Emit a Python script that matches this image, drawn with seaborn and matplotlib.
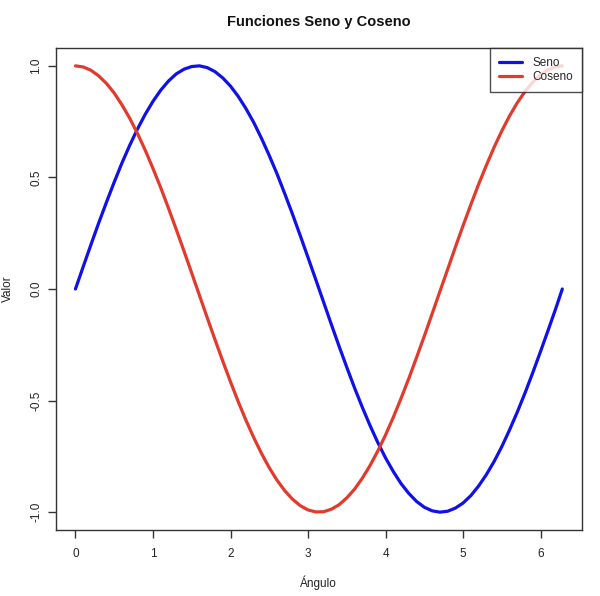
import matplotlib
matplotlib.use("Agg")
import matplotlib.pyplot as plt
from matplotlib.lines import Line2D
import seaborn as sns
import pandas as pd

angulo = [0.0, 0.1, 0.2, 0.3, 0.4, 0.5, 0.6, 0.7, 0.8, 0.9,
          1.0, 1.1, 1.2, 1.3, 1.4, 1.5, 1.6, 1.7, 1.8, 1.9,
          2.0, 2.1, 2.2, 2.3, 2.4, 2.5, 2.6, 2.7, 2.8, 2.9,
          3.0, 3.1, 3.2, 3.3, 3.4, 3.5, 3.6, 3.7, 3.8, 3.9,
          4.0, 4.1, 4.2, 4.3, 4.4, 4.5, 4.6, 4.7, 4.8, 4.9,
          5.0, 5.1, 5.2, 5.3, 5.4, 5.5, 5.6, 5.7, 5.8, 5.9,
          6.0, 6.1, 6.2, 6.28]
seno = [0.000, 0.100, 0.199, 0.296, 0.389, 0.479, 0.565, 0.644, 0.717, 0.783,
        0.841, 0.891, 0.932, 0.964, 0.985, 0.997, 1.000, 0.992, 0.974, 0.946,
        0.909, 0.863, 0.808, 0.746, 0.675, 0.598, 0.516, 0.427, 0.335, 0.239,
        0.141, 0.042, -0.058, -0.158, -0.256, -0.351, -0.443, -0.530, -0.612, -0.688,
        -0.757, -0.818, -0.872, -0.916, -0.952, -0.978, -0.994, -1.000, -0.996, -0.982,
        -0.959, -0.926, -0.883, -0.832, -0.773, -0.706, -0.631, -0.551, -0.465, -0.374,
        -0.279, -0.182, -0.083, 0.000]
coseno = [1.000, 0.995, 0.980, 0.955, 0.921, 0.878, 0.825, 0.765, 0.697, 0.622,
          0.540, 0.454, 0.362, 0.267, 0.170, 0.071, -0.029, -0.129, -0.227, -0.323,
          -0.416, -0.505, -0.589, -0.666, -0.737, -0.801, -0.857, -0.904, -0.942, -0.971,
          -0.990, -0.999, -0.998, -0.987, -0.967, -0.936, -0.897, -0.848, -0.791, -0.726,
          -0.654, -0.575, -0.490, -0.401, -0.307, -0.211, -0.112, -0.012, 0.087, 0.187,
          0.284, 0.378, 0.469, 0.554, 0.635, 0.709, 0.776, 0.835, 0.886, 0.927,
          0.960, 0.983, 0.997, 1.000]
series = ["Seno", "Coseno"]
colores = ["#1010E8", "#E23A2C"]
x_ticks = [0, 1, 2, 3, 4, 5, 6]
y_ticks = [-1.0, -0.5, 0.0, 0.5, 1.0]

df = pd.DataFrame({
    "Ángulo": angulo * 2,
    "Valor": seno + coseno,
    "Serie": [series[0]] * len(angulo) + [series[1]] * len(angulo),
})

sns.set_theme(style="ticks")
plt.rcParams["font.family"] = ["Liberation Sans", "DejaVu Sans"]

fig = plt.figure(figsize=(6.0, 5.96), dpi=100)
ax = fig.add_axes([56 / 600, 1 - 530 / 596, 526 / 600, 482 / 596])

sns.lineplot(data=df, x="Ángulo", y="Valor", hue="Serie", hue_order=series,
             palette=colores, linewidth=2.3, sort=False, ax=ax, legend=False)

ax.set_xlim(-0.251, 6.534)
ax.set_ylim(-1.08, 1.08)
ax.set_xticks(x_ticks)
ax.set_xticklabels([str(t) for t in x_ticks])
ax.set_yticks(y_ticks)
ax.set_yticklabels([f"{t:.1f}" for t in y_ticks], rotation=90, va="center")
for s in ax.spines.values():
    s.set_visible(True)
    s.set_color("#333333")
    s.set_linewidth(1.0)
ax.tick_params(axis="both", direction="out", length=6, width=1, colors="#333333",
               labelsize=8.5, labelcolor="#222222")
ax.tick_params(axis="x", pad=7)
ax.tick_params(axis="y", pad=4)

ax.set_xlabel("Ángulo", fontsize=8.5, color="#222222", va="center")
ax.set_ylabel("Valor", fontsize=8.5, color="#222222", va="center")
ax.xaxis.set_label_coords(318 / 600 * 600 / 526 - 56 / 526, -53 / 482)
ax.yaxis.set_label_coords(-48 / 526, 0.5)
ax.set_title("Funciones Seno y Coseno", fontsize=10.5, fontweight="bold",
             color="#111111", pad=16)

handles = [Line2D([0], [0], color=c, lw=2.3) for c in colores]
leg = ax.legend(handles, series, loc="upper right", bbox_to_anchor=(1.0, 1.0),
                borderaxespad=0, frameon=True, fancybox=False, fontsize=8.5,
                handlelength=1.9, handletextpad=0.9, borderpad=0.75,
                labelspacing=0.2)
leg.get_frame().set_edgecolor("#222222")
leg.get_frame().set_linewidth(1.0)

fig.savefig("out.png", dpi=100, facecolor="white")
